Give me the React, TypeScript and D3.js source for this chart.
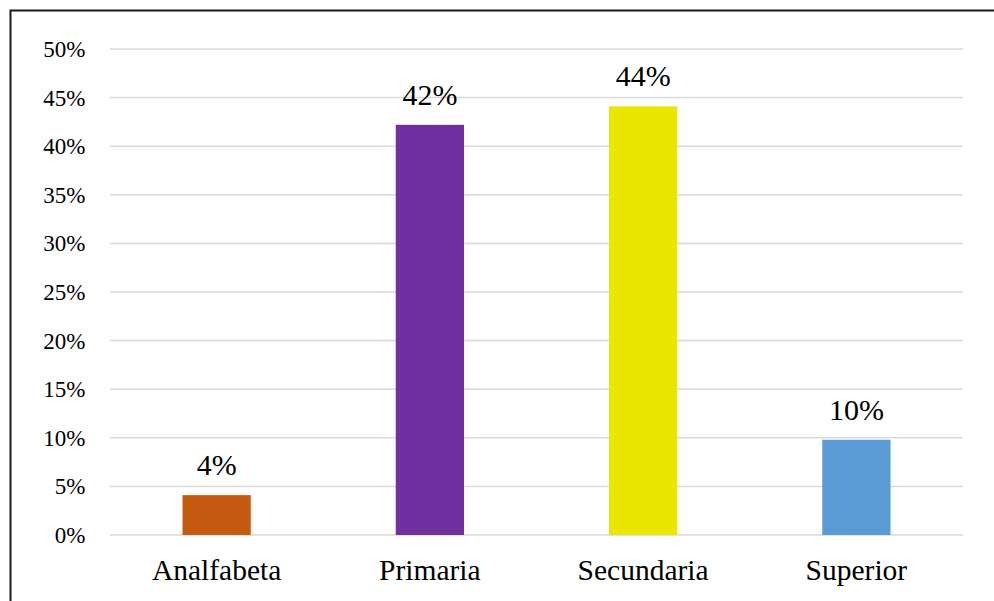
import React from "react";
import * as d3 from "d3";

// Nivel de instrucción: proporción por categoría
const categories = ["Analfabeta", "Primaria", "Secundaria", "Superior"];
const shares = [0.041, 0.422, 0.441, 0.098];
const barColors = ["#C55A11", "#7030A0", "#EAE600", "#5B9BD5"];
const yTicks = [0, 0.05, 0.1, 0.15, 0.2, 0.25, 0.3, 0.35, 0.4, 0.45, 0.5];

const W = 994;
const H = 601;
const plot = { left: 110, right: 963, top: 49, bottom: 535 };
const font = "'Liberation Serif', 'Times New Roman', serif";

export default function App() {
  const x = d3
    .scaleBand<string>()
    .domain(categories)
    .range([plot.left, plot.right])
    .paddingInner(0.68)
    .paddingOuter(0.34);
  const y = d3.scaleLinear().domain([0, 0.5]).range([plot.bottom, plot.top]);
  const pct = d3.format(".0%");

  return (
    <svg
      width={W}
      height={H}
      style={{ position: "absolute", left: 0, top: 0, background: "#fff" }}
    >
      <rect x={0} y={0} width={W} height={H} fill="#fff" />
      <rect
        x={10.5}
        y={10.5}
        width={W + 20}
        height={H + 20}
        fill="none"
        stroke="#1a1a1a"
        strokeWidth={2}
      />
      {yTicks.map((t) => (
        <g key={t}>
          <line
            x1={plot.left}
            x2={plot.right}
            y1={y(t)}
            y2={y(t)}
            stroke="#d9d9d9"
            strokeWidth={1.5}
          />
          <text
            x={85.5}
            y={y(t) + 8}
            textAnchor="end"
            fontFamily={font}
            fontSize={23}
            fill="#000"
          >
            {pct(t)}
          </text>
        </g>
      ))}
      {categories.map((c, i) => {
        const bx = x(c)!;
        const bw = x.bandwidth();
        const v = shares[i];
        return (
          <g key={c}>
            <rect
              x={bx}
              y={y(v)}
              width={bw}
              height={y(0) - y(v)}
              fill={barColors[i]}
            />
            <text
              x={bx + bw / 2}
              y={y(v) - 20}
              textAnchor="middle"
              fontFamily={font}
              fontSize={30}
              fill="#000"
            >
              {pct(v)}
            </text>
            <text
              x={bx + bw / 2}
              y={580}
              textAnchor="middle"
              fontFamily={font}
              fontSize={29.5}
              fill="#000"
            >
              {c}
            </text>
          </g>
        );
      })}
    </svg>
  );
}
